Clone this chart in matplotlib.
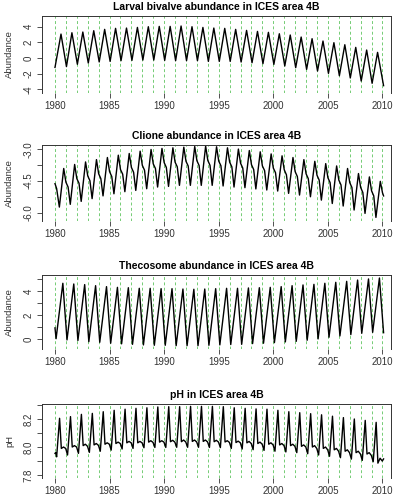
import numpy as np
import matplotlib.pyplot as plt

plt.rcParams['font.family'] = ['Liberation Sans', 'DejaVu Sans']

# ---- data (one cycle per year) ----
cycle_years = np.arange(1980, 2010)
year_lines = np.arange(1980, 2011)

# larval bivalves: trough just after new year, peak mid-year
bivalve_peak_at = 0.55
bivalve_trough_at = 0.05
bivalve_peaks = [3.06, 3.23, 3.32, 3.49, 3.66, 3.79, 3.83, 3.91, 4.00, 4.04,
                 4.04, 4.09, 4.00, 3.91, 3.83, 3.79, 3.66, 3.53, 3.40, 3.28,
                 3.10, 2.94, 2.68, 2.47, 2.17, 1.96, 1.70, 1.36, 1.02, 0.72]
bivalve_troughs = [-1.10, -0.80, -0.64, -0.50, -0.43, -0.34, -0.30, -0.26, -0.26,
                   -0.30, -0.34, -0.34, -0.34, -0.43, -0.43, -0.43, -0.51, -0.60,
                   -0.72, -0.81, -1.02, -1.23, -1.45, -1.66, -1.96, -2.26, -2.55,
                   -2.94, -3.23]  # 1981-2009
bivalve_ends = ([1980.0, 2010.1], [-1.20, -3.53])

# Clione: trough in spring, sharp peak, knee on the way down
clione_trough_at = 0.4
clione_peak_at = 0.8
clione_knee_a_at = 1.0
clione_knee_b_at = 1.2
clione_troughs = [-5.73, -5.60, -5.46, -5.33, -5.20, -5.10, -5.00, -4.94, -4.86, -4.78,
                  -4.75, -4.70, -4.70, -4.70, -4.70, -4.73, -4.78, -4.81, -4.87, -4.92,
                  -4.97, -5.08, -5.16, -5.24, -5.40, -5.56, -5.68, -5.87, -6.03, -6.22]
clione_peaks = [-3.90, -3.71, -3.59, -3.48, -3.38, -3.27, -3.19, -3.08, -3.00, -2.95,
                -2.92, -2.89, -2.86, -2.84, -2.87, -2.92, -2.98, -3.05, -3.11, -3.21,
                -3.30, -3.38, -3.48, -3.56, -3.67, -3.78, -3.90, -4.14, -4.30, -4.51]
clione_knee_a = [-4.55, -4.38, -4.25, -4.15, -4.05, -3.95, -3.85, -3.75, -3.68, -3.62,
                 -3.60, -3.56, -3.53, -3.52, -3.55, -3.60, -3.65, -3.72, -3.78, -3.88,
                 -3.96, -4.05, -4.15, -4.22, -4.34, -4.45, -4.57, -4.80, -4.96, -5.05]
clione_knee_b = [-4.78, -4.60, -4.48, -4.38, -4.28, -4.17, -4.08, -3.98, -3.90, -3.85,
                 -3.82, -3.78, -3.76, -3.75, -3.77, -3.82, -3.88, -3.95, -4.00, -4.10,
                 -4.20, -4.28, -4.38, -4.45, -4.57, -4.68, -4.80, -5.04, -5.20]  # 1980-2008
clione_ends = ([1980.0, 1980.15, 2010.1], [-4.62, -4.85, -5.20])

# thecosomes
theco_trough_at = 0.1
theco_peak_at = 0.72
theco_troughs = [0.05, -0.05, -0.10, -0.20, -0.25, -0.33, -0.38, -0.42, -0.47, -0.50,
                 -0.50, -0.53, -0.53, -0.53, -0.50, -0.47, -0.44, -0.42, -0.36, -0.33,
                 -0.28, -0.22, -0.17, -0.08, 0.03, 0.17, 0.28, 0.39, 0.50, 0.58]
theco_peaks = [4.67, 4.61, 4.56, 4.47, 4.39, 4.33, 4.30, 4.25, 4.25, 4.22,
               4.22, 4.19, 4.17, 4.19, 4.22, 4.25, 4.25, 4.28, 4.30, 4.33,
               4.39, 4.47, 4.53, 4.58, 4.67, 4.75, 4.83, 4.94, 5.03, 5.11]
theco_ends = ([1980.0, 2010.1], [0.95, 0.55])

# pH: spring spike then a flat plateau
ph_trough_at = 0.15
ph_peak_at = 0.42
ph_post_at = 0.58
ph_mid_at = 0.78
ph_late_at = 0.98
ph_troughs = [7.930, 7.943, 7.955, 7.962, 7.970, 7.978, 7.986, 7.990, 7.995, 7.997,
              7.997, 7.998, 7.998, 7.998, 7.997, 7.996, 7.990, 7.986, 7.981, 7.976,
              7.970, 7.965, 7.960, 7.952, 7.943, 7.934, 7.924, 7.914, 7.905, 7.895]
ph_peaks = [8.205, 8.217, 8.233, 8.240, 8.252, 8.262, 8.270, 8.276, 8.280, 8.286,
            8.288, 8.288, 8.290, 8.290, 8.290, 8.288, 8.280, 8.276, 8.272, 8.270,
            8.262, 8.252, 8.245, 8.238, 8.230, 8.220, 8.210, 8.200, 8.190, 8.176]
ph_post = [7.990, 8.000, 8.010, 8.015, 8.020, 8.025, 8.030, 8.030, 8.035, 8.035,
           8.038, 8.038, 8.040, 8.040, 8.038, 8.036, 8.032, 8.030, 8.025, 8.020,
           8.015, 8.010, 8.005, 8.000, 7.990, 7.980, 7.970, 7.960, 7.950, 7.885]
ph_mid = [8.000, 8.010, 8.020, 8.025, 8.030, 8.035, 8.040, 8.040, 8.045, 8.045,
          8.048, 8.050, 8.050, 8.050, 8.048, 8.045, 8.042, 8.040, 8.035, 8.030,
          8.025, 8.020, 8.015, 8.010, 8.000, 7.990, 7.980, 7.970, 7.960, 7.920]
ph_late = [7.990, 8.000, 8.005, 8.012, 8.020, 8.025, 8.030, 8.030, 8.033, 8.035,
           8.035, 8.036, 8.036, 8.036, 8.035, 8.033, 8.030, 8.025, 8.020, 8.015,
           8.010, 8.005, 8.000, 7.990, 7.980, 7.970, 7.960, 7.950, 7.940, 7.900]
ph_ends = ([1980.0, 1980.07, 2010.1], [7.955, 7.960, 7.915])


def series(ends, *parts):
    # parts are (years, offset, values); glue them in time order
    t = list(ends[0])
    v = list(ends[1])
    for yrs, off, vals in parts:
        t += list(np.asarray(yrs[:len(vals)]) + off)
        v += list(vals)
    t = np.array(t)
    v = np.array(v)
    order = np.argsort(t)
    return t[order], v[order]


bivalve = series(bivalve_ends,
                 (cycle_years, bivalve_peak_at, bivalve_peaks),
                 (cycle_years[1:], bivalve_trough_at, bivalve_troughs))
clione = series(clione_ends,
                (cycle_years, clione_trough_at, clione_troughs),
                (cycle_years, clione_peak_at, clione_peaks),
                (cycle_years, clione_knee_a_at, clione_knee_a),
                (cycle_years, clione_knee_b_at, clione_knee_b))
theco = series(theco_ends,
               (cycle_years, theco_trough_at, theco_troughs),
               (cycle_years, theco_peak_at, theco_peaks))
ph = series(ph_ends,
            (cycle_years, ph_trough_at, ph_troughs),
            (cycle_years, ph_peak_at, ph_peaks),
            (cycle_years, ph_post_at, ph_post),
            (cycle_years, ph_mid_at, ph_mid),
            (cycle_years, ph_late_at, ph_late))

panels = [
    ("Larval bivalve abundance in ICES area 4B", "Abundance", bivalve,
     16, 93, (-4.47, 5.37), [-4, -2, 0, 2, 4], ["-4", "-2", "0", "2", "4"]),
    ("Clione abundance in ICES area 4B", "Abundance", clione,
     145, 221, (-6.39, -2.787), [-6.0, -5.25, -4.5, -3.75, -3.0],
     ["-6.0", "", "-4.5", "", "-3.0"]),
    ("Thecosome abundance in ICES area 4B", "Abundance", theco,
     275, 349, (-0.81, 5.36), [0, 1, 2, 3, 4, 5], ["0", "", "2", "", "4", ""]),
    ("pH in ICES area 4B", "pH", ph,
     404, 478, (7.779, 8.307), [7.8, 7.9, 8.0, 8.1, 8.2, 8.3],
     ["7.8", "", "8.0", "", "8.2", ""]),
]

W, H = 399, 500
fig = plt.figure(figsize=(W / 100, H / 100), dpi=100)

for title, ylab, (t, v), top, bottom, ylim, yt, ytl in panels:
    ax = fig.add_axes([42 / W, 1 - bottom / H, 349 / W, (bottom - top) / H])

    ax.vlines(year_lines, ylim[0], ylim[1], colors="#74cc74", linewidth=0.7,
              linestyles=(0, (3, 2.5)), zorder=1)
    ax.plot(t, v, color="black", linewidth=1.0, solid_joinstyle="round", zorder=2)

    ax.set_xlim(1978.81, 2010.78)
    ax.set_ylim(*ylim)
    ax.set_xticks(range(1980, 2011, 5))
    ax.set_yticks(yt)
    ax.set_yticklabels(ytl, rotation=90, va="center")

    ax.tick_params(direction="out", length=3.3, width=0.6, colors="#333333",
                   labelsize=7, pad=2.5)
    ax.spines["bottom"].set_visible(False)
    for s in ["left", "top", "right"]:
        ax.spines[s].set_color("#333333")
        ax.spines[s].set_linewidth(0.7)

    ax.set_title(title, fontsize=7.5, fontweight="bold", pad=4)
    ax.set_ylabel(ylab, fontsize=6.8, color="#333333")
    ax.yaxis.set_label_coords(-0.079, 0.5)

fig.savefig("out.png", dpi=100)
